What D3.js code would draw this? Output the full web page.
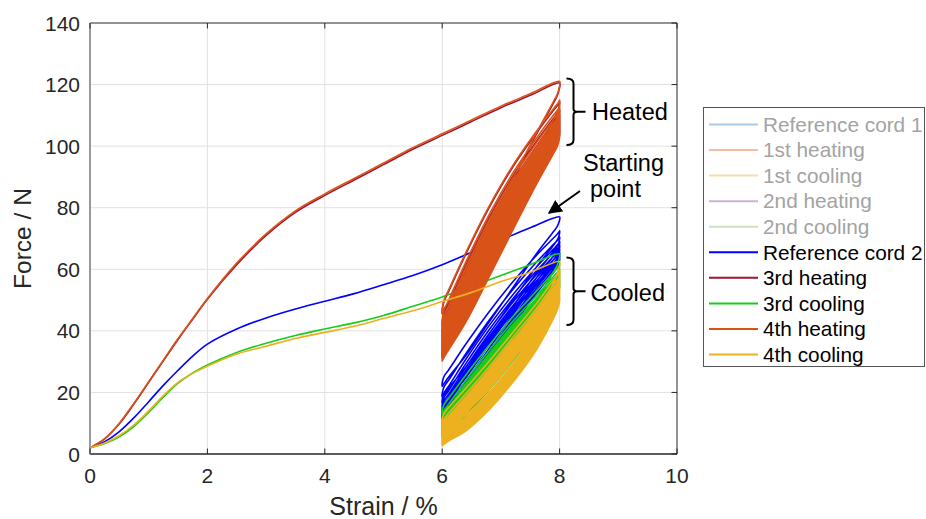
<!DOCTYPE html>
<html lang="en">
  <head>
    <meta charset="utf-8">
    <title>Force vs strain cycles</title>
    <script type="text/javascript" src="https://cdn.jsdelivr.net/npm/d3@7"></script>
    <style type="text/css">
     body { margin: 0; background: #fff; }
     svg { display: block; font-family: "Liberation Sans", Arial, sans-serif; }
    </style>
  </head>
  <body>
    <script type="text/javascript">

     // ---- data ---------------------------------------------------------------
     // monotonic loading 0 -> 8 %
     let strainPts  = [0, 0.25, 0.5, 0.75, 1, 1.25, 1.5, 1.75, 2, 2.5, 3, 3.5, 4, 4.5, 5, 5.5, 6, 6.5, 7, 7.5, 8];
     let ref2Load   = [2, 4, 7.3, 11.8, 17, 22.3, 27.2, 31.8, 35.7, 40.6, 44.2, 47.1, 49.6, 52.1, 55, 58, 61.5, 65.5, 69.5, 73.5, 77];
     let heat3Load  = [2, 4.9, 9.8, 16.3, 23.3, 30.3, 37.2, 43.8, 50.3, 61.5, 71, 78.5, 84, 89, 94, 99, 103.5, 108, 112.5, 116.5, 120.5];
     let cool3Load  = [2, 3.4, 5.6, 9, 13.5, 18.5, 23, 26.3, 28.9, 33, 36, 38.5, 40.6, 42.6, 45, 48, 51, 54.5, 58, 61.5, 65];
     let heat4Load  = [2, 5, 10, 16.5, 23.5, 30.5, 37.5, 44, 50.5, 62, 71.5, 79, 84.5, 89.5, 94.5, 99.5, 104, 108.5, 113, 117, 121];
     let cool4Load  = [2, 3.6, 6, 9.5, 14, 19, 23.3, 26.2, 28.5, 32.5, 35, 37.5, 39.5, 41.5, 44, 46.5, 49.5, 52.5, 56, 59, 62.5];

     // cycling between 6 % and 8 %: peak force at 8 %, valley force at 6 %
     let ref2Peaks    = [77, 72.5, 70.5, 69, 67.8, 66.6, 65.5, 64.5, 63.6, 63];
     let ref2Valleys  = [22, 18.5, 16.5, 15, 13.8, 12.8, 12, 11.4, 11];
     let heat3Peaks   = [120.5, 114.5, 112, 110.5, 109.5, 108.5, 108, 107.3, 106.8, 106.2, 105.8, 105.3, 104.9, 104.5];
     let heat3Valleys = [45.5, 41.5, 39.5, 38, 36.8, 35.8, 35, 34.2, 33.5, 32.9, 32.3, 31.8, 31.3];
     let cool3Peaks   = [65, 61.5, 60.2, 59.3, 58.6, 58, 57.4, 56.8, 56.3, 55.8, 55.3, 54.8, 54.4];
     let cool3Valleys = [13, 11, 9.8, 9, 8.3, 7.8, 7.3, 6.9, 6.5, 6.2, 5.9, 5.6];
     let heat4Peaks   = [121, 115, 113, 111.6, 110.5, 109.6, 108.9, 108.3, 107.7, 107.2, 106.7, 106.3, 105.9, 105.5, 105.2, 104.9, 104.6, 104.3, 104, 103.8];
     let heat4Valleys = [46, 42.5, 40.5, 39, 37.8, 36.8, 36, 35.2, 34.5, 33.9, 33.3, 32.8, 32.3, 31.9, 31.5, 31.1, 30.8, 30.5, 30.2];
     let cool4Peaks   = [62.5, 59.5, 58, 57, 56.2, 55.6, 55, 54.5, 54, 53.6, 53.2, 52.8, 52.5, 52.2, 51.9, 51.6, 51.3, 51, 50.8, 50.6, 50.4, 50.2];
     let cool4Valleys = [10.5, 8.6, 7.6, 6.9, 6.3, 5.8, 5.4, 5, 4.7, 4.4, 4.1, 3.9, 3.7, 3.5, 3.3, 3.2, 3.1, 3, 2.9, 2.8, 2.7];

     // loop shapes (fraction of the valley->peak force span along 6 -> 8 %)
     let loopT       = [0, 0.005, 0.02, 0.05, 0.2, 0.4, 0.6, 0.8, 0.95, 0.98, 0.995, 1];
     let blueLoad    = [0, 0.04, 0.07, 0.1, 0.27, 0.48, 0.67, 0.84, 0.955, 0.978, 0.992, 1];
     let blueUnload  = [0, 0.006, 0.02, 0.05, 0.18, 0.38, 0.58, 0.78, 0.915, 0.945, 0.97, 1];
     let stiffLoad   = [0, 0.035, 0.065, 0.1, 0.28, 0.5, 0.69, 0.85, 0.96, 0.98, 0.993, 1];
     let stiffUnload = [0, 0.006, 0.02, 0.045, 0.17, 0.37, 0.575, 0.775, 0.915, 0.945, 0.97, 1];
     let greenLoad   = [0, 0.04, 0.07, 0.1, 0.26, 0.46, 0.65, 0.82, 0.95, 0.975, 0.99, 1];
     let greenUnload = [0, 0.005, 0.016, 0.04, 0.14, 0.31, 0.5, 0.71, 0.89, 0.93, 0.965, 1];
     let softLoad    = [0, 0.035, 0.06, 0.09, 0.22, 0.4, 0.59, 0.78, 0.94, 0.97, 0.99, 1];
     let softUnload  = [0, 0.004, 0.012, 0.03, 0.1, 0.245, 0.43, 0.65, 0.87, 0.925, 0.962, 1];

     let legendNames  = ["Reference cord 1", "1st heating", "1st cooling", "2nd heating", "2nd cooling",
                         "Reference cord 2", "3rd heating", "3rd cooling", "4th heating", "4th cooling"];
     let legendColors = ["#a9cbe6", "#f5bba3", "#f8dea6", "#cdb4d6", "#cde2ba",
                         "#0000ff", "#a2142f", "#19cc19", "#d95319", "#edb120"];
     let legendFaded  = [true, true, true, true, true, false, false, false, false, false];

     let xTicks = [0, 2, 4, 6, 8, 10];
     let yTicks = [0, 20, 40, 60, 80, 100, 120, 140];

     // ---- layout ---------------------------------------------------------------
     let w = 926;
     let h = 519;
     let margin = {top: 23, right: 249, bottom: 65, left: 90};   // plot box 90..677 x 23..454

     let svg = d3.select("body").append("svg")
		 .attr("width", w)
		 .attr("height", h);

     let xScale = d3.scaleLinear().domain([0, 10]).range([margin.left, w - margin.right]);
     let yScale = d3.scaleLinear().domain([0, 140]).range([h - margin.bottom, margin.top]);

     let textCol = "#262626";

     // grid
     svg.selectAll("line.gx")
	.data(xTicks.slice(1, -1))
	.enter()
	.append("line")
	.attr("x1", d => xScale(d)).attr("x2", d => xScale(d))
	.attr("y1", yScale(0)).attr("y2", yScale(140))
	.attr("stroke", "#e1e1e1").attr("stroke-width", 1);
     svg.selectAll("line.gy")
	.data(yTicks.slice(1, -1))
	.enter()
	.append("line")
	.attr("x1", xScale(0)).attr("x2", xScale(10))
	.attr("y1", d => yScale(d)).attr("y2", d => yScale(d))
	.attr("stroke", "#e1e1e1").attr("stroke-width", 1);

     // build one series path: monotonic part, then the 6-8 % loops
     function buildPath(load, peaks, valleys, loadShape, unloadShape) {
       let pts = strainPts.map((s, i) => [s, load[i]]);
       for (let i = 0; i < valleys.length; i++) {
	 let p = peaks[i], v = valleys[i], pn = peaks[i + 1];
	 // unloading 8 -> 6
	 for (let k = loopT.length - 2; k >= 0; k--) {
	   pts.push([6 + 2 * loopT[k], v + (p - v) * unloadShape[k]]);
	 }
	 if (pn === undefined) break;
	 // reloading 6 -> 8
	 for (let k = 1; k < loopT.length; k++) {
	   pts.push([6 + 2 * loopT[k], v + (pn - v) * loadShape[k]]);
	 }
       }
       return pts;
     }

     let series = [
       {load: ref2Load,  peaks: ref2Peaks,  valleys: ref2Valleys,  color: "#0000ff", ls: blueLoad,  us: blueUnload},
       {load: heat3Load, peaks: heat3Peaks, valleys: heat3Valleys, color: "#a2142f", ls: stiffLoad, us: stiffUnload},
       {load: cool3Load, peaks: cool3Peaks, valleys: cool3Valleys, color: "#19cc19", ls: greenLoad, us: greenUnload},
       {load: heat4Load, peaks: heat4Peaks, valleys: heat4Valleys, color: "#d95319", ls: stiffLoad, us: stiffUnload},
       {load: cool4Load, peaks: cool4Peaks, valleys: cool4Valleys, color: "#edb120", ls: softLoad,  us: softUnload}
     ];

     let line = d3.line()
		  .x(d => xScale(d[0]))
		  .y(d => yScale(d[1]))
		  .curve(d3.curveCatmullRom.alpha(0.5));

     svg.append("g")
	.selectAll("path")
	.data(series)
	.enter()
	.append("path")
	.attr("d", d => line(buildPath(d.load, d.peaks, d.valleys, d.ls, d.us)))
	.attr("fill", "none")
	.attr("stroke", d => d.color)
	.attr("stroke-width", 1.6)
	.attr("stroke-linejoin", "round");

     // axes box
     let x0 = xScale(0), x1 = xScale(10), y0 = yScale(0), y1 = yScale(140);
     svg.append("line").attr("x1", x0).attr("x2", x1).attr("y1", y1).attr("y2", y1).attr("stroke", textCol);
     svg.append("line").attr("x1", x1).attr("x2", x1).attr("y1", y0).attr("y2", y1).attr("stroke", textCol);
     svg.append("line").attr("x1", x0).attr("x2", x1).attr("y1", y0).attr("y2", y0).attr("stroke", textCol).attr("stroke-width", 1.3);
     svg.append("line").attr("x1", x0).attr("x2", x0).attr("y1", y0 + 0.5).attr("y2", y1).attr("stroke", "#9a9a9a").attr("stroke-width", 2);

     // inward ticks
     let tl = 5.5;
     svg.selectAll("line.tb")
	.data(xTicks)
	.enter()
	.append("line")
	.attr("x1", d => xScale(d)).attr("x2", d => xScale(d))
	.attr("y1", y0).attr("y2", y0 - tl)
	.attr("stroke", textCol);
     svg.selectAll("line.tt")
	.data(xTicks)
	.enter()
	.append("line")
	.attr("x1", d => xScale(d)).attr("x2", d => xScale(d))
	.attr("y1", y1).attr("y2", y1 + tl)
	.attr("stroke", textCol);
     svg.selectAll("line.tr")
	.data(yTicks)
	.enter()
	.append("line")
	.attr("x1", x1).attr("x2", x1 - tl)
	.attr("y1", d => yScale(d)).attr("y2", d => yScale(d))
	.attr("stroke", textCol);

     // tick labels
     svg.selectAll("text.xl")
	.data(xTicks)
	.enter()
	.append("text")
	.attr("x", d => xScale(d))
	.attr("y", 483)
	.attr("text-anchor", "middle")
	.attr("font-size", "21px")
	.attr("fill", textCol)
	.text(d => d);
     svg.selectAll("text.yl")
	.data(yTicks)
	.enter()
	.append("text")
	.attr("x", 80)
	.attr("y", d => yScale(d) + 7.5)
	.attr("text-anchor", "end")
	.attr("font-size", "21px")
	.attr("fill", textCol)
	.text(d => d);

     // axis titles
     svg.append("text")
	.attr("x", (x0 + x1) / 2)
	.attr("y", 515)
	.attr("text-anchor", "middle")
	.attr("font-size", "25px")
	.attr("fill", textCol)
	.text("Strain / %");
     svg.append("text")
	.attr("transform", "translate(31," + ((y0 + y1) / 2) + ") rotate(-90)")
	.attr("text-anchor", "middle")
	.attr("font-size", "24.5px")
	.attr("fill", textCol)
	.text("Force / N");

     // annotations: brackets, labels and arrow
     function bracket(top, bottom) {
       let bx = 573.5, mid = (top + bottom) / 2;
       svg.append("path")
	  .attr("d", `M${bx - 7},${top} Q${bx},${top} ${bx},${top + 5} L${bx},${mid - 3} Q${bx},${mid} ${bx + 4},${mid} L${bx + 12},${mid}`
		   + ` M${bx + 4},${mid} Q${bx},${mid} ${bx},${mid + 3} L${bx},${bottom - 5} Q${bx},${bottom} ${bx - 7},${bottom}`)
	  .attr("fill", "none")
	  .attr("stroke", "#000")
	  .attr("stroke-width", 2);
     }
     bracket(78.5, 145);
     bracket(257.5, 325);

     svg.append("text").attr("x", 592).attr("y", 120).attr("font-size", "23.5px").attr("fill", "#000").text("Heated");
     svg.append("text").attr("x", 590.5).attr("y", 300.5).attr("font-size", "23.5px").attr("fill", "#000").text("Cooled");
     svg.append("text").attr("x", 583).attr("y", 171).attr("font-size", "23.5px").attr("fill", "#000").text("Starting");
     svg.append("text").attr("x", 590).attr("y", 197).attr("font-size", "23.5px").attr("fill", "#000").text("point");

     svg.append("defs").append("marker")
	.attr("id", "head")
	.attr("viewBox", "0 0 10 10")
	.attr("refX", 9).attr("refY", 5)
	.attr("markerWidth", 7).attr("markerHeight", 7)
	.attr("markerUnits", "strokeWidth")
	.attr("orient", "auto")
	.append("path")
	.attr("d", "M0,0 L10,5 L0,10 Z")
	.attr("fill", "#000");
     svg.append("line")
	.attr("x1", 580).attr("y1", 191)
	.attr("x2", 549).attr("y2", 213)
	.attr("stroke", "#000")
	.attr("stroke-width", 2)
	.attr("marker-end", "url(#head)");

     // legend
     let lg = svg.append("g");
     lg.append("rect")
       .attr("x", 703.5).attr("y", 107.5)
       .attr("width", 221).attr("height", 259)
       .attr("fill", "#fff")
       .attr("stroke", "#555")
       .attr("stroke-width", 1);
     let rowY = d3.scaleLinear().domain([0, 9]).range([124.5, 354.5]);
     lg.selectAll("line.ll")
       .data(legendNames)
       .enter()
       .append("line")
       .attr("x1", 709).attr("x2", 758)
       .attr("y1", (d, i) => rowY(i)).attr("y2", (d, i) => rowY(i))
       .attr("stroke", (d, i) => legendColors[i])
       .attr("stroke-width", 2);
     lg.selectAll("text.lt")
       .data(legendNames)
       .enter()
       .append("text")
       .attr("x", 763)
       .attr("y", (d, i) => rowY(i) + 7.3)
       .attr("font-size", "20.8px")
       .attr("fill", (d, i) => legendFaded[i] ? "#a3a3a3" : "#000")
       .text(d => d);
    </script>
  </body>
</html>
